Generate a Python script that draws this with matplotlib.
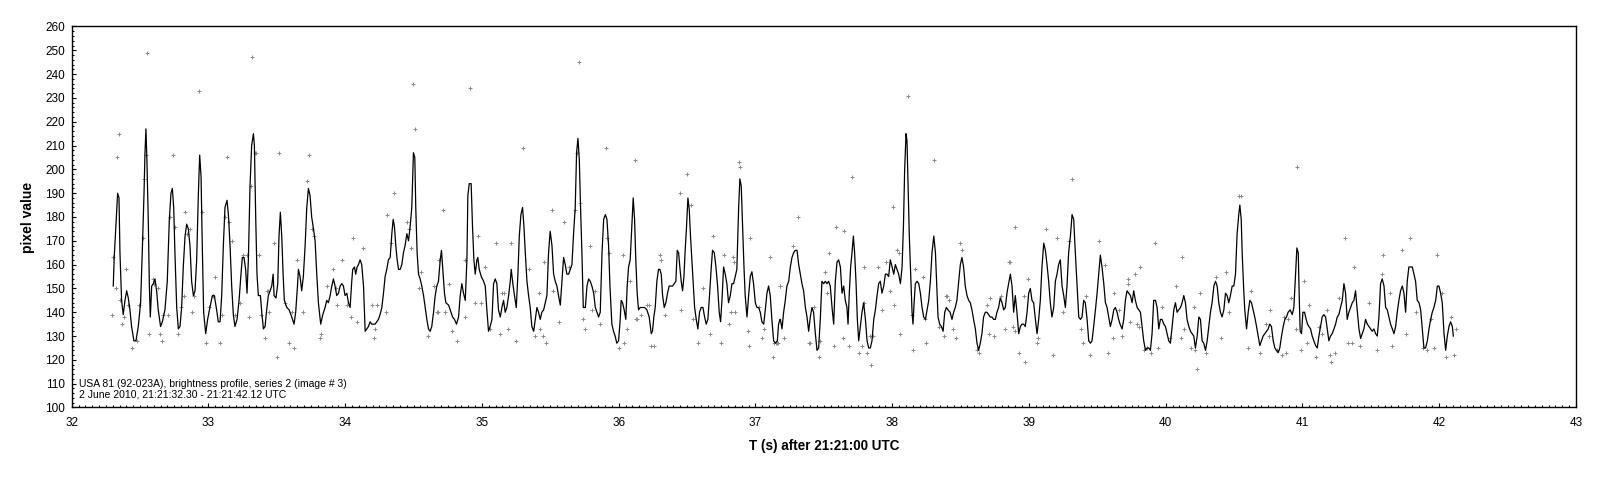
import matplotlib
matplotlib.use("Agg")
import matplotlib.pyplot as plt
from matplotlib.ticker import MultipleLocator

# smoothed brightness profile, (T, pixel value)
line_32 = [(32.304,151),(32.311,163),(32.329,183),(32.336,190),(32.346,188),(32.353,165),(32.365,145),(32.377,139),(32.390,145),(32.402,149),(32.414,146),(32.426,141),(32.438,134),(32.455,128),(32.470,128),(32.487,134),(32.504,144),(32.516,165),(32.529,190),(32.536,207),(32.543,217),(32.550,204),(32.560,179),(32.568,151),(32.575,138),(32.585,151),(32.597,152),(32.609,154),(32.621,149),(32.633,141),(32.650,134),(32.663,136),(32.682,141),(32.699,153),(32.714,179),(32.726,190),(32.736,192),(32.746,184),(32.755,165),(32.768,142),(32.780,133),(32.792,134),(32.804,142),(32.816,159),(32.829,172),(32.841,177),(32.853,175),(32.865,168),(32.877,153),(32.890,147),(32.902,149),(32.914,162),(32.926,189),(32.936,206),(32.946,197),(32.955,168),(32.965,140),(32.980,131),(32.994,137),(33.011,142),(33.029,147),(33.043,147),(33.060,141),(33.072,136),(33.085,136),(33.097,147),(33.109,168),(33.121,184),(33.136,187),(33.146,181),(33.158,168),(33.170,151),(33.182,139),(33.194,134),(33.209,137),(33.224,145),(33.238,156),(33.248,163),(33.260,163),(33.272,158),(33.282,148),(33.292,162),(33.304,193),(33.316,210),(33.329,215),(33.336,210),(33.346,179),(33.355,156),(33.365,147),(33.380,147),(33.390,140),(33.402,133)]
line_33 = [(33.414,134),(33.426,141),(33.438,147),(33.451,149),(33.463,151),(33.473,156),(33.480,147),(33.494,146),(33.507,152),(33.516,172),(33.526,182),(33.536,172),(33.546,156),(33.555,145),(33.573,142),(33.590,141),(33.609,138),(33.626,135),(33.638,140),(33.651,151),(33.658,158),(33.670,155),(33.682,149),(33.694,155),(33.707,168),(33.719,184),(33.731,192),(33.743,189),(33.755,180),(33.768,175),(33.780,170),(33.792,156),(33.804,144),(33.821,135),(33.836,139),(33.853,142),(33.865,145),(33.877,144),(33.890,147),(33.902,151),(33.914,154),(33.926,151),(33.938,147),(33.951,148),(33.963,151),(33.975,152),(33.987,151),(33.999,147),(34.012,148),(34.024,144),(34.036,142),(34.048,153),(34.055,158),(34.068,159),(34.077,156),(34.087,159),(34.097,160),(34.109,162),(34.121,160),(34.134,151),(34.146,132),(34.158,133),(34.170,134),(34.182,136),(34.194,135),(34.219,135),(34.243,137),(34.255,139),(34.268,142),(34.280,148),(34.292,155),(34.304,158),(34.316,162),(34.329,163),(34.341,173),(34.351,179),(34.360,176),(34.370,168),(34.380,162),(34.390,158),(34.402,158),(34.414,160),(34.426,165),(34.438,168),(34.451,173),(34.463,170),(34.475,176),(34.487,184),(34.499,207),(34.509,205),(34.516,184),(34.526,165),(34.536,156),(34.548,154),(34.560,151),(34.573,147),(34.585,142),(34.597,137),(34.609,133),(34.621,132),(34.633,134),(34.646,140)]
line_34 = [(34.658,147),(34.670,151),(34.682,153),(34.695,162),(34.704,166),(34.714,158),(34.726,148),(34.736,144),(34.756,143),(34.768,141),(34.785,138),(34.799,137),(34.814,135),(34.829,138),(34.841,147),(34.853,152),(34.865,148),(34.878,145),(34.890,162),(34.897,189),(34.907,194),(34.921,194),(34.931,176),(34.941,162),(34.951,156),(34.963,162),(34.970,163),(34.980,158),(34.995,155),(35.012,153),(35.024,151),(35.036,141),(35.048,132),(35.060,134),(35.073,137),(35.085,152),(35.097,154),(35.109,152),(35.121,141),(35.134,138),(35.146,142),(35.158,145),(35.170,140),(35.182,142),(35.195,147),(35.207,153),(35.214,158),(35.226,152),(35.238,147),(35.251,142),(35.263,156),(35.273,172),(35.285,181),(35.297,184),(35.307,176),(35.317,165),(35.329,153),(35.341,147),(35.353,142),(35.365,134),(35.378,132),(35.390,137),(35.402,142),(35.414,140),(35.426,137),(35.438,140),(35.451,141),(35.463,144),(35.475,147),(35.487,165),(35.499,174),(35.512,168),(35.524,156),(35.536,153),(35.548,151),(35.560,147),(35.573,143),(35.585,153),(35.597,163),(35.609,160),(35.621,156),(35.634,156),(35.646,158),(35.658,160),(35.670,173),(35.682,184),(35.692,207),(35.702,213),(35.712,204),(35.721,184),(35.731,165),(35.741,142),(35.756,142),(35.768,151),(35.780,154),(35.792,153),(35.804,151),(35.817,148),(35.829,142),(35.841,140),(35.853,138),(35.865,140),(35.878,165),(35.890,179),(35.902,181),(35.914,179),(35.926,168),(35.936,151)]
line_36 = [(35.950,135),(35.962,132),(35.974,130),(35.986,127),(35.999,128),(36.011,137),(36.018,145),(36.028,144),(36.040,141),(36.052,137),(36.062,151),(36.072,159),(36.084,162),(36.096,176),(36.106,188),(36.116,179),(36.125,162),(36.135,148),(36.145,141),(36.157,142),(36.174,142),(36.189,142),(36.206,141),(36.223,138),(36.238,131),(36.247,132),(36.257,138),(36.267,142),(36.279,153),(36.291,158),(36.301,158),(36.311,156),(36.321,147),(36.333,142),(36.345,144),(36.357,148),(36.369,151),(36.381,151),(36.394,151),(36.406,152),(36.418,153),(36.428,166),(36.438,165),(36.447,159),(36.457,153),(36.467,149),(36.477,155),(36.486,166),(36.496,176),(36.506,188),(36.516,183),(36.525,172),(36.535,162),(36.545,152),(36.555,142),(36.567,137),(36.579,133),(36.591,140),(36.603,142),(36.616,142),(36.628,138),(36.640,135),(36.652,137),(36.664,147),(36.677,159),(36.686,166),(36.699,165),(36.711,159),(36.723,151),(36.735,140),(36.745,136),(36.755,145),(36.767,159),(36.779,156),(36.791,152),(36.803,144),(36.816,147),(36.828,152),(36.840,152),(36.852,155),(36.864,158),(36.877,184),(36.886,196),(36.896,193),(36.906,176),(36.916,159),(36.925,147),(36.938,138),(36.950,147),(36.962,155),(36.974,157),(36.986,152),(36.999,144),(37.011,142),(37.023,142),(37.035,140),(37.047,136),(37.060,135),(37.072,141),(37.084,148),(37.096,151),(37.108,147),(37.120,137),(37.133,128),(37.145,127),(37.160,128),(37.169,135),(37.179,137)]
line_37 = [(37.182,137),(37.194,133),(37.206,140),(37.218,145),(37.230,151),(37.243,153),(37.255,159),(37.267,163),(37.279,165),(37.291,166),(37.304,166),(37.316,160),(37.328,156),(37.340,152),(37.352,149),(37.365,142),(37.377,138),(37.389,132),(37.401,138),(37.413,142),(37.425,140),(37.438,131),(37.450,124),(37.462,125),(37.474,137),(37.486,153),(37.499,152),(37.511,153),(37.523,152),(37.535,153),(37.547,151),(37.560,142),(37.572,135),(37.584,153),(37.596,161),(37.608,162),(37.621,159),(37.633,148),(37.645,151),(37.657,145),(37.669,142),(37.677,135),(37.686,148),(37.696,159),(37.706,165),(37.716,172),(37.725,165),(37.735,153),(37.745,137),(37.755,128),(37.767,134),(37.779,140),(37.791,144),(37.804,137),(37.816,128),(37.828,125),(37.840,125),(37.852,128),(37.865,137),(37.877,141),(37.889,147),(37.901,152),(37.913,153),(37.925,148),(37.938,151),(37.950,156),(37.962,156),(37.974,155),(37.986,162),(37.999,159),(38.011,156),(38.023,160),(38.035,158),(38.047,156),(38.060,152),(38.072,159),(38.082,176),(38.091,200),(38.101,215),(38.108,212),(38.116,193),(38.125,172),(38.135,156),(38.145,140),(38.152,135),(38.160,144),(38.169,152),(38.182,153),(38.194,152),(38.206,148),(38.218,142),(38.230,138),(38.243,137),(38.255,141),(38.267,145),(38.279,153),(38.291,165),(38.304,172),(38.316,165),(38.325,152),(38.335,138),(38.347,135),(38.360,134),(38.372,132),(38.384,140),(38.396,142),(38.408,141),(38.423,140)]
line_38 = [(38.437,137),(38.449,140),(38.461,142),(38.473,145),(38.486,153),(38.498,160),(38.510,163),(38.522,159),(38.534,151),(38.547,147),(38.559,145),(38.571,144),(38.583,141),(38.595,137),(38.608,133),(38.620,127),(38.632,124),(38.644,127),(38.656,131),(38.668,138),(38.681,140),(38.693,140),(38.705,139),(38.717,138),(38.729,138),(38.742,137),(38.754,137),(38.766,140),(38.778,142),(38.790,146),(38.803,144),(38.815,141),(38.827,142),(38.839,148),(38.851,152),(38.864,156),(38.876,151),(38.888,140),(38.900,147),(38.912,140),(38.925,131),(38.937,134),(38.949,135),(38.961,135),(38.973,134),(38.986,140),(38.998,148),(39.010,150),(39.022,145),(39.034,144),(39.047,137),(39.059,131),(39.071,137),(39.083,145),(39.095,159),(39.108,169),(39.120,166),(39.132,160),(39.144,153),(39.156,144),(39.168,138),(39.181,142),(39.193,153),(39.205,156),(39.217,160),(39.229,162),(39.242,151),(39.254,147),(39.266,142),(39.278,151),(39.290,165),(39.303,172),(39.315,181),(39.327,179),(39.339,165),(39.351,152),(39.364,138),(39.376,137),(39.388,138),(39.400,145),(39.412,144),(39.425,137),(39.437,128),(39.449,127),(39.461,128),(39.473,134),(39.486,141),(39.498,148),(39.510,156),(39.522,164),(39.534,159),(39.547,152),(39.559,144),(39.571,142),(39.583,138),(39.595,134),(39.608,137),(39.620,141),(39.632,142),(39.644,140),(39.656,137),(39.666,135)]
line_39 = [(39.681,133),(39.693,137),(39.705,145),(39.717,149),(39.730,148),(39.742,147),(39.754,144),(39.766,149),(39.778,145),(39.791,142),(39.803,141),(39.815,140),(39.827,134),(39.839,128),(39.852,124),(39.864,125),(39.876,125),(39.888,124),(39.900,131),(39.912,145),(39.925,145),(39.937,142),(39.949,133),(39.961,137),(39.973,137),(39.986,135),(39.998,134),(40.010,131),(40.022,128),(40.034,127),(40.047,134),(40.059,141),(40.071,144),(40.083,140),(40.095,141),(40.108,142),(40.120,144),(40.132,147),(40.144,144),(40.156,137),(40.169,134),(40.181,132),(40.193,131),(40.205,130),(40.217,125),(40.230,130),(40.242,138),(40.254,137),(40.266,128),(40.278,127),(40.291,124),(40.303,128),(40.315,134),(40.327,140),(40.339,144),(40.352,151),(40.364,153),(40.376,151),(40.388,144),(40.400,140),(40.412,138),(40.425,141),(40.437,148),(40.449,147),(40.461,144),(40.473,147),(40.486,151),(40.498,151),(40.510,156),(40.522,173),(40.534,181),(40.542,185),(40.552,179),(40.559,165),(40.569,151),(40.578,141),(40.591,133),(40.603,140),(40.615,145),(40.627,144),(40.639,141),(40.651,138),(40.664,134),(40.676,130),(40.688,126),(40.700,128),(40.712,130),(40.725,131),(40.737,132),(40.749,133),(40.761,135),(40.773,134),(40.786,128),(40.798,125),(40.810,124),(40.822,123),(40.834,125),(40.847,130),(40.859,134),(40.871,137),(40.883,138),(40.895,140),(40.910,141)]
line_41 = [(40.925,139),(40.937,142),(40.949,156),(40.959,167),(40.969,165),(40.976,147),(40.983,132),(40.993,131),(41.003,140),(41.015,140),(41.027,137),(41.037,135),(41.047,134),(41.059,133),(41.071,130),(41.083,128),(41.096,126),(41.108,125),(41.120,130),(41.132,134),(41.144,138),(41.156,139),(41.169,138),(41.181,133),(41.193,128),(41.205,130),(41.217,131),(41.230,133),(41.242,135),(41.254,138),(41.266,139),(41.278,142),(41.291,145),(41.303,152),(41.315,148),(41.327,137),(41.339,140),(41.352,142),(41.364,144),(41.376,145),(41.388,149),(41.400,141),(41.413,133),(41.425,129),(41.437,131),(41.449,133),(41.461,137),(41.474,135),(41.486,134),(41.498,133),(41.510,132),(41.522,133),(41.535,131),(41.547,130),(41.559,138),(41.571,152),(41.583,154),(41.596,151),(41.608,142),(41.620,141),(41.632,138),(41.644,135),(41.657,133),(41.669,131),(41.681,134),(41.693,140),(41.705,145),(41.717,149),(41.730,151),(41.742,148),(41.754,140),(41.766,153),(41.778,159),(41.791,159),(41.803,159),(41.815,156),(41.827,153),(41.839,145),(41.852,144),(41.864,141),(41.876,133),(41.888,125),(41.900,125),(41.913,128),(41.925,133),(41.937,137),(41.949,140),(41.961,142),(41.974,145),(41.986,151),(41.998,151),(42.010,148),(42.022,144),(42.035,131),(42.047,124),(42.059,130),(42.071,134),(42.083,136),(42.096,134),(42.103,130)]

# raw samples (gray crosses)
pts_32 = [(32.548,249),(33.321,247),(32.933,233),(32.346,215),(32.333,205),(32.743,206),(33.133,205),(33.341,207),(32.829,182),(32.394,158),(32.297,139),(32.370,135),(32.438,125),(32.565,131),(32.658,128),(32.877,140),(32.982,127),(33.085,127),(33.048,155),(33.297,138),(33.370,164),(33.414,129),(32.780,131),(32.646,131),(32.304,163),(32.321,150),(32.353,145),(32.385,138),(32.414,143),(32.480,128),(32.494,143),(32.519,171),(32.531,196),(32.541,206),(32.597,154),(32.604,152),(32.633,150),(32.670,139),(32.702,139),(32.721,180),(32.755,176),(32.799,142),(32.824,147),(32.841,173),(32.865,175),(32.897,147),(32.955,182),(33.004,142),(33.036,147),(33.097,139),(33.121,180),(33.150,178),(33.170,170),(33.194,139),(33.231,144),(33.255,164),(33.280,164),(33.309,193),(33.346,207),(33.382,139),(33.433,149)]
pts_33 = [(34.499,236),(34.512,217),(33.519,207),(33.736,206),(33.719,195),(34.360,190),(34.304,181),(33.480,169),(33.651,162),(34.060,171),(34.129,167),(33.980,162),(34.451,178),(33.499,121),(33.592,127),(33.629,125),(33.821,131),(33.816,129),(33.694,140),(34.043,138),(34.085,136),(34.214,129),(34.219,133),(34.194,143),(34.231,143),(34.297,140),(34.602,130),(34.541,150),(34.653,151),(34.687,162),(33.775,172),(33.755,175),(33.870,151),(33.914,158),(33.931,150),(33.943,143),(34.014,143),(33.560,144),(33.609,140),(33.426,149),(33.443,140),(34.336,169),(34.463,175),(34.482,167),(34.551,157),(34.670,140)]
pts_35 = [(35.707,245),(34.909,234),(35.297,209),(35.907,209),(34.712,183),(35.512,183),(35.597,178),(34.968,172),(35.104,169),(35.214,169),(35.792,168),(35.451,161),(34.756,152),(34.678,140),(34.780,132),(34.817,128),(34.951,144),(34.992,144),(35.056,133),(35.129,131),(35.190,133),(35.251,128),(35.385,130),(35.426,133),(35.443,130),(35.470,127),(35.414,148),(35.519,149),(35.565,136),(35.736,137),(35.756,133),(35.804,141),(35.824,149),(35.860,135),(34.873,138),(34.731,140),(34.878,162),(35.019,159),(35.146,148),(35.158,148),(35.341,158),(35.634,159),(35.682,183),(35.695,207),(35.714,186),(35.914,171),(35.926,165)]
pts_36 = [(36.120,204),(36.503,198),(36.881,203),(36.889,201),(36.450,190),(36.530,185),(36.962,171),(37.103,163),(36.035,164),(36.299,164),(36.311,162),(36.689,172),(36.767,164),(36.835,163),(36.840,161),(36.084,153),(36.125,137),(36.135,137),(36.164,139),(36.206,143),(36.225,143),(36.238,126),(36.255,126),(36.335,139),(36.457,141),(36.540,137),(36.579,127),(36.616,150),(36.664,131),(36.747,127),(36.803,135),(36.821,140),(36.852,140),(36.943,132),(36.950,126),(37.047,129),(37.060,133),(37.023,142),(37.125,121),(35.999,125),(36.040,127),(36.057,133),(37.133,127),(37.157,127),(37.181,151)]
pts_37 = [(38.113,231),(38.306,204),(37.706,197),(38.004,184),(37.311,180),(37.591,176),(37.647,174),(37.272,168),(37.540,165),(38.035,166),(38.052,165),(37.896,159),(37.955,161),(37.791,159),(37.182,151),(37.511,157),(38.169,158),(38.223,155),(38.404,147),(37.523,148),(37.796,144),(37.925,141),(37.986,149),(38.016,143),(38.145,139),(38.243,137),(38.060,131),(37.389,127),(37.401,127),(37.462,121),(37.577,126),(37.640,129),(37.682,126),(37.755,123),(37.779,126),(37.816,123),(37.845,118),(37.835,130),(37.857,130),(38.150,124),(38.250,127),(38.340,134),(38.377,130),(37.150,127),(37.165,127),(37.206,129),(37.425,142),(37.474,128)]
pts_38 = [(39.317,196),(38.493,169),(38.510,166),(38.900,176),(39.127,175),(39.207,171),(39.510,170),(39.295,170),(38.851,161),(38.864,161),(38.993,154),(39.554,160),(38.395,147),(38.417,145),(38.442,133),(38.468,129),(38.620,124),(38.632,123),(38.705,131),(38.742,130),(38.712,146),(38.822,133),(38.883,134),(38.900,132),(38.929,123),(38.968,119),(38.964,147),(39.056,127),(39.066,129),(39.173,122),(39.247,140),(39.378,133),(39.398,127),(39.447,122),(39.417,147),(39.576,123),(39.612,129),(39.620,148),(39.656,141),(38.693,143),(38.798,147)]
pts_40 = [(39.920,169),(40.120,163),(40.539,189),(40.554,189),(39.810,159),(39.773,156),(39.722,154),(39.725,152),(40.076,151),(40.247,148),(40.442,157),(40.364,155),(40.620,149),(40.766,141),(39.681,130),(39.742,136),(39.791,135),(39.803,134),(39.839,124),(39.864,125),(39.895,123),(39.942,125),(39.973,142),(40.034,129),(40.108,129),(40.137,133),(40.205,142),(40.188,125),(40.217,124),(40.230,116),(40.295,123),(40.403,129),(40.466,140),(40.598,125),(40.686,123),(40.730,135),(40.754,130),(40.815,124),(40.852,122),(40.893,137),(40.864,138)]
pts_41 = [(40.961,201),(41.310,171),(41.783,171),(41.725,166),(41.588,164),(41.981,164),(41.376,159),(41.010,153),(41.578,156),(41.639,148),(41.486,144),(40.913,146),(41.047,143),(41.266,146),(41.832,140),(41.937,137),(42.017,148),(42.088,138),(42.125,133),(40.881,123),(40.986,124),(41.035,127),(41.100,121),(41.200,122),(41.205,119),(41.237,123),(41.332,127),(41.359,127),(41.418,126),(41.547,124),(41.657,126),(41.759,131),(41.881,125),(41.913,124),(41.961,125),(42.047,121),(42.108,122),(40.949,133),(41.120,134),(41.144,131),(41.181,141)]

line = line_32 + line_33 + line_34 + line_36 + line_37 + line_38 + line_39 + line_41
pts = pts_32 + pts_33 + pts_35 + pts_36 + pts_37 + pts_38 + pts_40 + pts_41
t_line = [p[0] for p in line]
v_line = [p[1] for p in line]
t_pts = [p[0] for p in pts]
v_pts = [p[1] for p in pts]

plt.rcParams['font.family'] = ['Liberation Sans', 'DejaVu Sans']

fig = plt.figure(figsize=(16, 4.78), dpi=100)
ax = fig.add_axes([0.0448, 0.1475, 0.9402, 0.7971])

ax.scatter(t_pts, v_pts, marker='+', s=6, color='#8a8a8a', linewidths=0.7, zorder=2)
ax.plot(t_line, v_line, color='black', lw=0.9, zorder=3)

ax.set_xlim(32, 43)
ax.set_ylim(100, 260)
ax.xaxis.set_major_locator(MultipleLocator(1))
ax.xaxis.set_minor_locator(MultipleLocator(0.05))
ax.yaxis.set_major_locator(MultipleLocator(10))
ax.yaxis.set_minor_locator(MultipleLocator(2))
ax.tick_params(which='both', direction='in', labelsize=8.5, width=0.8)
ax.tick_params(axis='y', which='major', length=3, pad=5)
ax.tick_params(axis='x', which='major', length=3, pad=7)
ax.tick_params(which='minor', length=1.5)
for s in ax.spines.values():
    s.set_linewidth(1.0)

ax.set_xlabel("T (s) after 21:21:00 UTC", fontsize=9.75, fontweight='bold', labelpad=7)
ax.set_ylabel("pixel value", fontsize=10, fontweight='bold', labelpad=7)

ax.text(0.005, 0.02, "USA 81 (92-023A), brightness profile, series 2 (image # 3)\n"
        "2 June 2010, 21:21:32.30 - 21:21:42.12 UTC",
        transform=ax.transAxes, fontsize=7.5, linespacing=1.1, va='bottom', ha='left')

fig.savefig("out.png", dpi=100)
